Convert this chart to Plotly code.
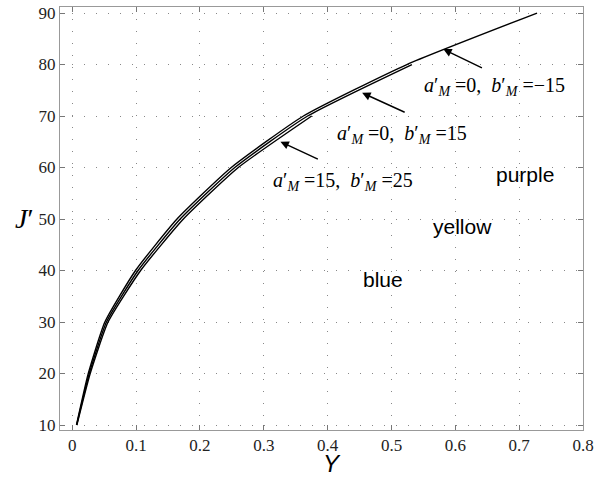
import plotly.graph_objects as go

# J' levels
J1 = [10, 20, 30, 40, 50, 60, 70, 80, 90]
J2 = [10, 20, 30, 40, 50, 60, 70, 80]
J3 = [10, 20, 30, 40, 50, 60, 70]
# Y values
Y1 = [0.0065, 0.025, 0.051, 0.099, 0.164, 0.249, 0.362, 0.524, 0.728]   # a'M=0, b'M=-15
Y2 = [0.0068, 0.0265, 0.0535, 0.103, 0.169, 0.2545, 0.3685, 0.532]     # a'M=0, b'M=15
Y3 = [0.0071, 0.028, 0.056, 0.107, 0.174, 0.260, 0.375]                # a'M=15, b'M=25

x_ticks = [0, 0.1, 0.2, 0.3, 0.4, 0.5, 0.6, 0.7, 0.8]
x_ticktext = ["0", "0.1", "0.2", "0.3", "0.4", "0.5", "0.6", "0.7", "0.8"]
y_ticks = [10, 20, 30, 40, 50, 60, 70, 80, 90]

fig = go.Figure()
for xs, ys in [(Y1, J1), (Y2, J2), (Y3, J3)]:
    fig.add_trace(go.Scatter(x=xs, y=ys, mode="lines",
                             line=dict(color="black", width=1.4, shape="spline", smoothing=0.5),
                             showlegend=False, hoverinfo="skip"))

serif = "Liberation Serif, Times New Roman, serif"
sans = "Liberation Sans, Arial, sans-serif"

axis_common = dict(
    showline=True, linecolor="#999", linewidth=1, mirror="ticks",
    ticks="inside", ticklen=5, tickcolor="#777",
    showgrid=True, gridcolor="#888", griddash="1px,11px", gridwidth=1,
    zeroline=False, automargin=False,
    tickfont=dict(family=serif, size=17, color="#222"),
)

fig.update_xaxes(range=[-0.0193, 0.8], tickvals=x_ticks, ticktext=x_ticktext, **axis_common)
fig.update_yaxes(range=[9.03, 91.17], tickvals=y_ticks, **axis_common)

annos = []
def lab(x, y, text):
    annos.append(dict(x=x, y=y, xref="x", yref="y", text=text, showarrow=False,
                      xanchor="left", yanchor="middle",
                      font=dict(family=serif, size=20, color="black")))

def arrow(hx, hy, tx, ty):
    annos.append(dict(x=hx, y=hy, ax=tx, ay=ty, xref="x", yref="y", axref="x", ayref="y",
                      text="", showarrow=True, arrowhead=2, arrowsize=1.2, arrowwidth=1.4,
                      arrowcolor="black"))

M = "<sub><i>M</i></sub>"
lab(0.548, 75.7, "<i>a</i>′" + M + " =0,  <i>b</i>′" + M + " =\u221215")
lab(0.412, 66.35, "<i>a</i>′" + M + " =0,  <i>b</i>′" + M + " =15")
lab(0.312, 57.2, "<i>a</i>′" + M + " =15,  <i>b</i>′" + M + " =25")
arrow(0.581, 83.0, 0.644, 79.2)
arrow(0.454, 74.5, 0.523, 70.6)
arrow(0.326, 65.0, 0.387, 61.5)

for x, y, t in [(0.709, 58.6, "purple"), (0.611, 48.5, "yellow"), (0.487, 38.2, "blue")]:
    annos.append(dict(x=x, y=y, xref="x", yref="y", text=t, showarrow=False,
                      xanchor="center", yanchor="middle",
                      font=dict(family=sans, size=21, color="black")))

annos.append(dict(x=0.52, y=-0.079, xref="paper", yref="paper", text="<i>Y</i>",
                  xanchor="center", yanchor="middle",
                  showarrow=False, font=dict(family=sans, size=24, color="black")))
annos.append(dict(x=-0.067, y=0.50, xref="paper", yref="paper", text="<i>J</i>′",
                  xanchor="center", yanchor="middle",
                  showarrow=False, font=dict(family=serif, size=28, color="black")))

fig.update_layout(
    width=602, height=477,
    margin=dict(l=60, r=19, t=7, b=47),
    plot_bgcolor="white", paper_bgcolor="white",
    annotations=annos,
)

fig.write_html("out.html", config={"displayModeBar": False},
               post_script="document.body.style.margin='0';")
